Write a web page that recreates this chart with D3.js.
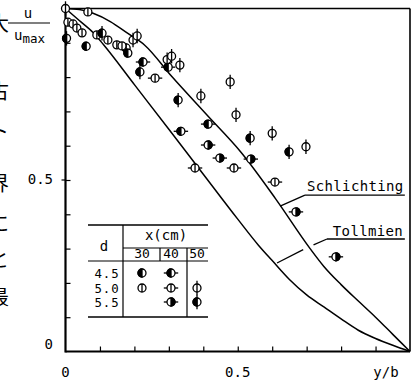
<!DOCTYPE html>
<html><head><meta charset="utf-8">
<script src="https://cdn.jsdelivr.net/npm/d3@7"></script>
<style>body{margin:0;background:#fff}svg{display:block}</style>
</head><body><svg id="c" width="420" height="385"></svg>
<script>
// ---- data ----
const xTickVals = [0.1,0.2,0.3,0.4,0.5,0.6,0.7,0.8,0.9];
const yTickVals = [0.1,0.2,0.3,0.4,0.5,0.6,0.7,0.8,0.9];
const xTickLabels = ["0","0.5"];
const yTickLabels = ["0","0.5"];
// theoretical curves (y/b, u/umax)
const schlichtingYB = [0,0.04,0.08,0.13,0.18,0.23,0.31,0.41,0.51,0.61,0.71,0.75,0.8,0.85,0.9,0.95,1];
const schlichtingU  = [1,0.997,0.986,0.962,0.928,0.893,0.8,0.69,0.58,0.445,0.3,0.248,0.195,0.147,0.1,0.05,0];
const tollmienYB = [0,0.04,0.08,0.11,0.2,0.3,0.4,0.5,0.56,0.6,0.65,0.7,0.75,0.8,0.85,0.9,0.95,1];
const tollmienU  = [1,0.965,0.93,0.895,0.778,0.648,0.517,0.386,0.31,0.265,0.21,0.165,0.13,0.095,0.062,0.038,0.018,0];
// measured points [y/b, u/umax], by d (mm) and x (cm)
const d45x30 = [[0.06,0.89],[0.176,0.885],[0.181,0.87]];
const d45x40 = [[0.225,0.844],[0.298,0.829],[0.335,0.642],[0.414,0.663]];
const d50x30 = [[0.065,0.99],[0.007,0.96],[0.022,0.955],[0.033,0.943],[0.048,0.929],[0.091,0.923],[0.123,0.908],[0.149,0.894],[0.164,0.891]];
const d50x40 = [[0.26,0.797],[0.376,0.535],[0.489,0.535],[0.608,0.494]];
const d50x50 = [[0,1],[0.196,0.908],[0.208,0.92],[0.295,0.851],[0.308,0.861],[0.332,0.835],[0.393,0.745],[0.478,0.786],[0.495,0.69],[0.6,0.636],[0.698,0.597]];
const d55x40 = [[0.414,0.602],[0.448,0.564],[0.538,0.561],[0.669,0.407],[0.785,0.276]];
const d55x50 = [[0.003,0.913],[0.106,0.928],[0.216,0.815],[0.327,0.733],[0.536,0.622],[0.649,0.582]];
const legendCols = ["30","40","50"];
const legendRows = ["4.5","5.0","5.5"];
const sideChars = ["大","古","ト","界","に","と","最"];

// ---- drawing ----
const svg = d3.select("#c");
const mono = "'DejaVu Sans Mono', monospace";
const x = d3.scaleLinear([0,1],[65.5,410]);
const y = d3.scaleLinear([0,1],[351.5,8.5]);

// clipped side text (page text beside the figure)
const sideY = [24,92,132,184,224,260,298];
svg.selectAll("text.side").data(sideChars).join("text")
  .attr("x",9).attr("y",(d,i)=>sideY[i]+7).attr("text-anchor","end")
  .attr("font-family","'Noto Sans CJK JP'").attr("font-size",20).text(d=>d);

// axes ticks
const gx = svg.append("g").attr("transform",`translate(0,${y(0)})`)
  .call(d3.axisBottom(x).tickValues(xTickVals).tickSize(-5).tickFormat(""));
const gy = svg.append("g").attr("transform",`translate(${x(0)},0)`)
  .call(d3.axisLeft(y).tickValues(yTickVals).tickSize(-5).tickFormat(""));
[gx,gy].forEach(g=>{g.select(".domain").remove(); g.selectAll(".tick line").attr("stroke","#000").attr("stroke-width",1.2);});
svg.append("line").attr("x1",x(0)-4).attr("x2",x(0)).attr("y1",y(0.5)).attr("y2",y(0.5)).attr("stroke","#000").attr("stroke-width",1.2);

// frame
const frame = svg.append("g").attr("stroke","#000").attr("fill","none");
frame.append("line").attr("x1",x(0)).attr("x2",x(0)).attr("y1",y(1)).attr("y2",y(0)+1).attr("stroke-width",2.2);
frame.append("line").attr("x1",x(0)).attr("x2",x(1)).attr("y1",y(0)).attr("y2",y(0)).attr("stroke-width",2.2);
frame.append("line").attr("x1",x(0)).attr("x2",x(1)).attr("y1",y(1)).attr("y2",y(1)).attr("stroke-width",1.4);
frame.append("line").attr("x1",x(1)).attr("x2",x(1)).attr("y1",y(1)).attr("y2",y(0)).attr("stroke-width",1.6);

// tick labels
svg.append("text").attr("x",x(0)).attr("y",377).attr("text-anchor","middle").attr("font-family",mono).attr("font-size",14).text(xTickLabels[0]);
svg.append("text").attr("x",x(0.5)).attr("y",377).attr("text-anchor","middle").attr("font-family",mono).attr("font-size",14).text(xTickLabels[1]);
svg.append("text").attr("x",386).attr("y",377).attr("text-anchor","middle").attr("font-family",mono).attr("font-size",14).text("y/b");
svg.append("text").attr("x",53).attr("y",y(0)-3).attr("text-anchor","end").attr("font-family",mono).attr("font-size",14).text(yTickLabels[0]);
svg.append("text").attr("x",53).attr("y",y(0.5)+4).attr("text-anchor","end").attr("font-family",mono).attr("font-size",14).text(yTickLabels[1]);

// y label u / u_max
svg.append("text").attr("x",28).attr("y",18).attr("text-anchor","middle").attr("font-family",mono).attr("font-size",14).text("u");
svg.append("line").attr("x1",8).attr("x2",50).attr("y1",23).attr("y2",23).attr("stroke","#000").attr("stroke-width",1.2);
const ul = svg.append("text").attr("x",14).attr("y",40).attr("font-family",mono).attr("font-size",14);
ul.append("tspan").text("u");
ul.append("tspan").attr("dy",3).attr("font-size",12.5).text("max");

// curves
const line = d3.line().x(d=>x(d[0])).y(d=>y(d[1])).curve(d3.curveMonotoneX);
svg.append("path").datum(schlichtingYB.map((v,i)=>[v,schlichtingU[i]])).attr("d",line)
  .attr("fill","none").attr("stroke","#000").attr("stroke-width",1.5);
svg.append("path").datum(tollmienYB.map((v,i)=>[v,tollmienU[i]])).attr("d",line)
  .attr("fill","none").attr("stroke","#000").attr("stroke-width",1.5);

// curve labels with leaders
const ann = svg.append("g").attr("stroke","#000").attr("stroke-width",1.3).attr("fill","none");
const seg = (a,b)=>ann.append("line").attr("x1",x(a[0])).attr("y1",y(a[1])).attr("x2",x(b[0])).attr("y2",y(b[1]));
seg([0.985,0.456],[0.695,0.456]); seg([0.695,0.456],[0.623,0.424]);
seg([0.985,0.328],[0.759,0.328]); seg([0.759,0.328],[0.72,0.311]); seg([0.69,0.297],[0.614,0.258]);
svg.append("text").attr("x",x(0.701)).attr("y",y(0.467)).attr("font-family",mono).attr("font-size",14).attr("letter-spacing",0.35).text("Schlichting");
svg.append("text").attr("x",x(0.776)).attr("y",y(0.337)).attr("font-family",mono).attr("font-size",14).attr("letter-spacing",0.35).text("Tollmien");

// markers
const spec = {
  A:{fill:"left",bar:false,stem:"none"},
  B:{fill:"left",bar:false,stem:"h"},
  C:{fill:"none",bar:true,stem:"none"},
  D:{fill:"none",bar:true,stem:"h"},
  E:{fill:"none",bar:true,stem:"v"},
  F:{fill:"right",bar:false,stem:"h"},
  G:{fill:"left",bar:true,stem:"v"}
};
function marker(g,type,cx,cy){
  const r=4,s=3.2,sp=spec[type];
  const m=g.append("g").attr("transform",`translate(${cx},${cy})`).attr("stroke","#000").attr("stroke-width",1.3);
  if(sp.stem==="h") m.append("line").attr("x1",-r-s).attr("x2",r+s).attr("y1",0).attr("y2",0);
  if(sp.stem==="v") m.append("line").attr("x1",0).attr("x2",0).attr("y1",-r-s).attr("y2",r+s);
  m.append("circle").attr("r",r).attr("fill","#fff");
  if(sp.fill==="left") m.append("path").attr("d",`M0,${-r}A${r},${r} 0 0 0 0,${r}Z`).attr("fill","#000");
  if(sp.fill==="right") m.append("path").attr("d",`M0,${-r}A${r},${r} 0 0 1 0,${r}Z`).attr("fill","#000");
  if(sp.bar) m.append("line").attr("x1",0).attr("x2",0).attr("y1",-r).attr("y2",r);
}
const pts = svg.append("g");
[[d45x30,"A"],[d45x40,"B"],[d50x30,"C"],[d50x40,"D"],[d50x50,"E"],[d55x40,"F"],[d55x50,"G"]]
  .forEach(([arr,t])=>arr.forEach(p=>marker(pts,t,x(p[0]),y(p[1]))));

// legend table
const lg = svg.append("g");
const tl = (x1,y1,x2,y2,w)=>lg.append("line").attr("x1",x1).attr("y1",y1).attr("x2",x2).attr("y2",y2).attr("stroke","#000").attr("stroke-width",w||1.2);
tl(88,225,208,225,1.4); tl(123,225,123,317); tl(123,248,208,248); tl(160,248,160,261); tl(187,248,187,317);
tl(88,261,208,261); tl(88,317,208,317,1.4);
const tt = (tx,ty,s,fs)=>lg.append("text").attr("x",tx).attr("y",ty).attr("text-anchor","middle").attr("font-family",mono).attr("font-size",fs||14).text(s);
tt(166,240,"x(cm)"); tt(104,251,"d");
const colX=[142,171,197];
legendCols.forEach((c,i)=>tt(colX[i],258,c,13));
const rowY=[273,288,302];
legendRows.forEach((r,i)=>tt(107,rowY[i]+4.5,r,12.4).attr("letter-spacing",0.8));
marker(lg,"A",colX[0],rowY[0]); marker(lg,"B",colX[1],rowY[0]);
marker(lg,"C",colX[0],rowY[1]); marker(lg,"D",colX[1],rowY[1]); marker(lg,"E",colX[2],rowY[1]);
marker(lg,"F",colX[1],rowY[2]); marker(lg,"G",colX[2],rowY[2]);
</script></body></html>
